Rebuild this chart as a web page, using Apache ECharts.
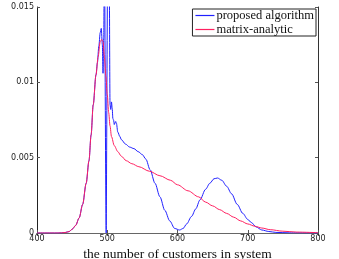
<!DOCTYPE html>
<html><head><meta charset="utf-8">
<script src="https://cdn.jsdelivr.net/npm/echarts@6/dist/echarts.min.js"></script>
<style>html,body{margin:0;padding:0;background:#fff}#c{width:339px;height:259px}</style>
</head><body><div id="c"></div>
<script>
const seriesNames = ['proposed algorithm', 'matrix-analytic'];
const xTicks = [400, 500, 600, 700, 800];
const yTicks = [0, 0.005, 0.01, 0.015];

const redX = [400,420,430,435,440,446,450,455,460,465,470,474,477,480,484,487,490,492,494,496,498,500,502,504,506,510,515,520,527,535,545,560,575,590,600,615,630,640,650,660,670,680,690,700,710,720,732,750,770,800];
const redY = [0,0,0,0.00001,0.00003,0.0001,0.00025,0.0005,0.001,0.0019,0.0033,0.0048,0.0065,0.0085,0.0105,0.0117,0.0127,0.01285,0.0127,0.0117,0.0104,0.0092,0.0080,0.0071,0.0064,0.0058,0.0054,0.0051,0.0048,0.0046,0.0044,0.0041,0.0038,0.0035,0.0032,0.0028,0.0024,0.00205,0.0018,0.00155,0.0013,0.00105,0.0008,0.0006,0.00045,0.00033,0.00022,0.00012,0.00006,0.00002];

const blueX = [400,420,430,435,440,446,450,455,460,465,470,474,477,480,484,486,488,490,491.5,493,494,495,496,497,498.5,499.5,501,502.5,504,505,506,507,508,509,510,512,513,515,518,520,526,532,538,544,550,555,561,568,575,582,589,596,603,608,613,620,626,632,640,646,652,657,663,670,677,685,693,700,705,712,720,730,740,760,800];
const blueY = [0,0,0,0.00001,0.00003,0.0001,0.00025,0.0005,0.001,0.0019,0.0033,0.0048,0.0065,0.0085,0.0105,0.0113,0.0124,0.0133,0.01358,0.0125,0.0106,0.013,0.02,0.02,0,0,0.02,0.02,0.0085,0.0082,0.0087,0.0083,0.0076,0.0075,0.0072,0.0074,0.0073,0.0067,0.0064,0.0062,0.0059,0.0057,0.0056,0.0054,0.0052,0.0049,0.0042,0.0033,0.0024,0.0015,0.0008,0.0003,0.0002,0.0003,0.0006,0.0011,0.0016,0.0022,0.0029,0.0033,0.0036,0.00365,0.0035,0.0031,0.0026,0.0019,0.0013,0.0009,0.0007,0.0004,0.0002,0.0001,0.00004,0.00001,0];

const zip = (xs, ys) => xs.map((x, i) => [x, ys[i]]);
const chart = echarts.init(document.getElementById('c'), null, {renderer: 'canvas'});
const serif = '"Liberation Serif", "DejaVu Serif", serif';
const axisLine = {show: true, lineStyle: {color: '#222', width: 1}};
const tick = {show: true, inside: true, length: 3, lineStyle: {color: '#555'}};
chart.setOption({
  animation: false,
  grid: {left: 37, right: 21, top: 7, bottom: 26, containLabel: false, outerBoundsMode: 'none'},
  legend: {
    data: seriesNames.map(n => ({name: n})),
    orient: 'vertical', right: 23, top: 9,
    icon: 'rect', itemWidth: 19, itemHeight: 1.2, itemGap: 1,
    backgroundColor: '#fff', borderColor: '#222', borderWidth: 1, borderRadius: 0,
    padding: [0, 2, 0, 3],
    textStyle: {fontFamily: serif, fontSize: 12.5, color: '#111', padding: [0,0,0,-3]}
  },
  xAxis: [{
    type: 'value', min: xTicks[0], max: xTicks[xTicks.length-1], interval: 100,
    axisLine, axisTick: tick, splitLine: {show: false},
    axisLabel: {fontSize: 8, color: '#222', margin: 2, fontFamily: 'DejaVu Sans'},
    name: 'the number of customers in system', nameLocation: 'middle', nameGap: 13,
    nameTextStyle: {fontFamily: serif, fontSize: 13.5, color: '#111'}
  }, {
    type: 'value', position: 'top', min: 400, max: 800, interval: 100,
    axisLine: {show: true, lineStyle: {color: '#666', width: 1}}, axisTick: tick, axisLabel: {show: false}, splitLine: {show: false}
  }],
  yAxis: [{
    type: 'value', min: 0, max: 0.015, interval: 0.005,
    axisLine, axisTick: tick, splitLine: {show: false},
    axisLabel: {fontSize: 8, color: '#222', margin: 3, fontFamily: 'DejaVu Sans',
      formatter: v => String(+v.toFixed(3))},
    name: 'probability', nameLocation: 'middle', nameGap: 28, nameRotate: 90,
    nameTextStyle: {fontFamily: serif, fontSize: 13.5, color: '#111'}
  }, {
    type: 'value', position: 'right', min: 0, max: 0.015, interval: 0.005,
    axisLine: {show: true, lineStyle: {color: '#333', width: 1}}, axisTick: tick, axisLabel: {show: false}, splitLine: {show: false}
  }],
  series: [{
    name: seriesNames[0], type: 'line', data: zip(blueX, blueY), symbol: 'none', clip: true,
    smooth: 0.3, smoothMonotone: 'x',
    lineStyle: {color: '#2020ff', width: 1}, itemStyle: {color: '#2020ff'}, z: 2
  }, {
    name: seriesNames[1], type: 'line', data: zip(redX, redY), symbol: 'none', clip: true,
    smooth: 0.3, smoothMonotone: 'x',
    lineStyle: {color: '#ff2060', width: 1}, itemStyle: {color: '#ff2060'}, z: 3
  }]
});
</script></body></html>
